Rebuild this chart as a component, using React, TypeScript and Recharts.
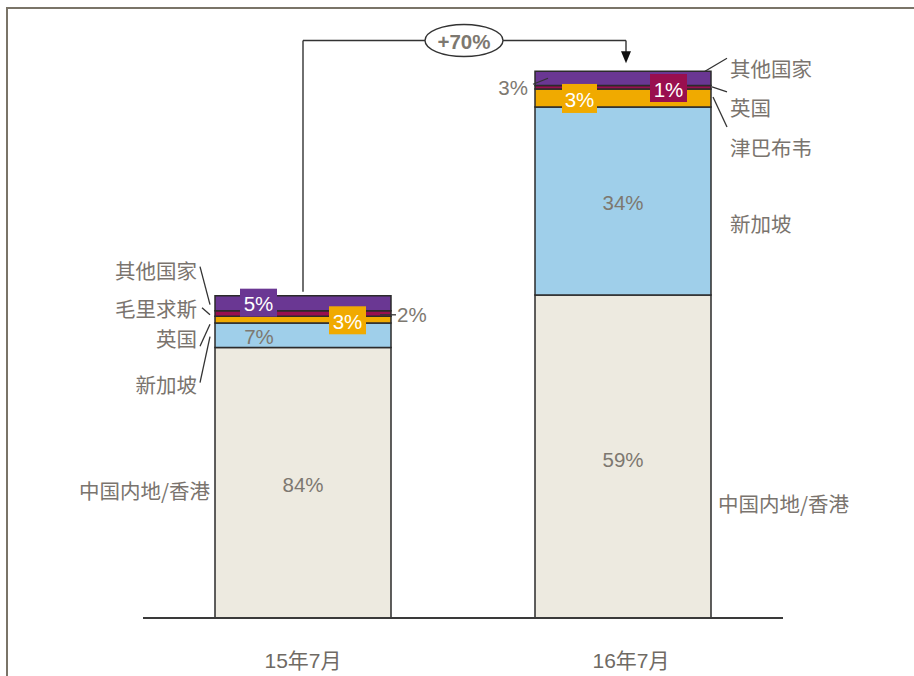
import React from 'react';
import { BarChart, Bar, XAxis, YAxis, LabelList } from 'recharts';

// ---- data ----
const categories = ['15年7月', '16年7月'];
const chinaHK = [84.0, 100.3];
const singapore = [7.6, 58.4];
const uk = [2.1, 5.6];
const mauritius = [1.7, 0];
const zimbabwe = [0, 1.1];
const others = [4.7, 4.4];

const chinaPct = ['84%', '59%'];
const singaporePct = ['7%', '34%'];
const ukPct = ['3%', '3%'];
const mauritiusPct = ['2%', ''];
const zimbabwePct = ['', '1%'];
const othersPct = ['5%', '3%'];
const growthLabel = '+70%';

const seriesNames = {
  china: '中国内地/香港',
  sg: '新加坡',
  uk: '英国',
  mu: '毛里求斯',
  zw: '津巴布韦',
  ot: '其他国家',
};

const data = categories.map((c, i) => ({
  cat: c,
  china: chinaHK[i],
  sg: singapore[i],
  uk: uk[i],
  mu: mauritius[i],
  zw: zimbabwe[i],
  ot: others[i],
}));

// ---- style ----
const C_BEIGE = '#edeae0';
const C_BLUE = '#9fcfea';
const C_ORANGE = '#f0aa00';
const C_CRIMSON = '#990f4f';
const C_PURPLE = '#6a3793';
const STROKE = '#2b2b2b';
const TXT = '#7a746e';
const PCT = '#7d7870';
const LEAD = '#333333';
const CJK = '"Noto Sans CJK SC", "Noto Sans", sans-serif';
const NUM = '"Liberation Sans", Arial, "Noto Sans CJK SC", sans-serif';
const TOPY = 40.5;
const NUMSIZE = 20.5;

const Lbl = ({ x, y, t, anchor = 'start', size = 20.5, color = TXT, family = CJK, weight = 400 }: any) => (
  <text x={x} y={y} textAnchor={anchor} dominantBaseline="central" fontSize={size} fill={color} fontFamily={family} fontWeight={weight}>
    {t}
  </text>
);

const Lead = ({ x1, y1, x2, y2 }: any) => (
  <line x1={x1} y1={y1} x2={x2} y2={y2} stroke={LEAD} strokeWidth={1.3} />
);

const Box = ({ cx, cy, w, h, fill, t }: any) => (
  <g>
    <rect x={cx - w / 2} y={cy - h / 2} width={w} height={h} fill={fill} />
    <Lbl x={cx} y={cy + 1} t={t} anchor="middle" size={NUMSIZE} color="#ffffff" family={NUM} />
  </g>
);

const Annotations = (props: any) => {
  const vb = props.viewBox || {};
  const x = props.x ?? vb.x;
  const y = props.y ?? vb.y;
  const w = props.width ?? vb.width;
  const h = props.height ?? vb.height;
  const i = props.index;
  if (x == null || y == null || !w || !h) return null;
  const k = h / others[i];
  const bottom = y + h + (chinaHK[i] + singapore[i] + uk[i] + mauritius[i] + zimbabwe[i]) * k;
  const Tc = bottom - chinaHK[i] * k;
  const Ts = Tc - singapore[i] * k;
  const Tu = Ts - uk[i] * k;
  const Tm = Tu - (mauritius[i] + zimbabwe[i]) * k;
  const To = y;
  const midC = (Tc + bottom) / 2;
  const midS = (Ts + Tc) / 2;
  const cx = x + w / 2;

  if (i === 0) {
    return (
      <g>
        <Lbl x={cx} y={midC + 2} t={chinaPct[0]} anchor="middle" size={NUMSIZE} color={PCT} family={NUM} />
        <Lbl x={x - 5} y={midC + 7} t={seriesNames.china} anchor="end" />
        <Lbl x={x + 44} y={midS + 1} t={singaporePct[0]} anchor="middle" size={NUMSIZE} color={PCT} family={NUM} />
        <Lbl x={x - 18} y={Tc + 36} t={seriesNames.sg} anchor="end" />
        <Lead x1={x - 15} y1={Tc + 35} x2={x - 5} y2={Tc - 11} />
        <Lbl x={x - 18} y={Tu + 22} t={seriesNames.uk} anchor="end" />
        <Lead x1={x - 15} y1={Tu + 30} x2={x - 5} y2={Tu + 8} />
        <Lbl x={x - 18} y={Tm - 3} t={seriesNames.mu} anchor="end" />
        <Lead x1={x - 13} y1={Tm - 3} x2={x - 5} y2={Tm + 4} />
        <Lbl x={x - 18} y={To - 26} t={seriesNames.ot} anchor="end" />
        <Lead x1={x - 15} y1={To - 29} x2={x - 5} y2={To + 9} />
        <Lead x1={x + w - 11} y1={Tm + 4} x2={x + w + 5} y2={Tm + 4} />
        <Lbl x={x + w + 6} y={Tm + 4} t={mauritiusPct[0]} size={NUMSIZE} color={PCT} family={NUM} />
        <Box cx={x + 43.5} cy={To + 7} w={37} h={28} fill={C_PURPLE} t={othersPct[0]} />
        <Box cx={x + 132.5} cy={Tu + 4} w={37} h={28} fill={C_ORANGE} t={ukPct[0]} />
        <line x1={cx} y1={To - 4} x2={cx} y2={TOPY} stroke={LEAD} strokeWidth={1.4} />
        <line x1={cx} y1={TOPY} x2={cx + 122} y2={TOPY} stroke={LEAD} strokeWidth={1.4} />
      </g>
    );
  }
  return (
    <g>
      <Lbl x={cx} y={midC + 3} t={chinaPct[1]} anchor="middle" size={NUMSIZE} color={PCT} family={NUM} />
      <Lbl x={x + w + 7} y={midC + 46.5} t={seriesNames.china} />
      <Lbl x={cx} y={midS + 1} t={singaporePct[1]} anchor="middle" size={NUMSIZE} color={PCT} family={NUM} />
      <Lbl x={x + w + 19} y={Tc - 72} t={seriesNames.sg} />
      <Box cx={x + 44.5} cy={Tu + 9.5} w={35} h={29} fill={C_ORANGE} t={ukPct[1]} />
      <Lbl x={x + w + 19} y={Tu + 18} t={seriesNames.uk} />
      <Lead x1={x + w + 1} y1={Tu - 2} x2={x + w + 16} y2={Tu + 3} />
      <Box cx={x + 133.5} cy={Tm + 2.6} w={37} h={28} fill={C_CRIMSON} t={zimbabwePct[1]} />
      <Lbl x={x + w + 19} y={Tm + 61.6} t={seriesNames.zw} />
      <Lead x1={x + w + 2} y1={Tm + 11.6} x2={x + w + 16} y2={Tm + 41.6} />
      <Lbl x={x - 7} y={To + 16} t={othersPct[1]} anchor="end" size={NUMSIZE} color={PCT} family={NUM} />
      <Lead x1={x - 2} y1={To + 13} x2={x + 13} y2={To + 7} />
      <Lbl x={x + w + 19} y={To - 3} t={seriesNames.ot} />
      <Lead x1={x + w - 6} y1={To} x2={x + w + 16} y2={To - 13} />
      <line x1={x - 71 + 39} y1={TOPY} x2={x + 91} y2={TOPY} stroke={LEAD} strokeWidth={1.4} />
      <line x1={x + 91} y1={TOPY} x2={x + 91} y2={To - 19} stroke={LEAD} strokeWidth={1.4} />
      <polygon points={`${x + 86},${To - 20} ${x + 96},${To - 20} ${x + 91},${To - 8}`} fill="#111" />
      <ellipse cx={x - 71} cy={TOPY} rx={39} ry={16} fill="#ffffff" stroke={LEAD} strokeWidth={1.4} />
      <Lbl x={x - 71} y={TOPY + 1} t={growthLabel} anchor="middle" size={NUMSIZE} color={PCT} family={NUM} weight={700} />
    </g>
  );
};

const Tick = (props: any) => {
  const { x, y, payload, index } = props;
  return (
    <text x={x + (index === 1 ? 8 : 0)} y={y + 34} textAnchor="middle" dominantBaseline="central" fontSize={21} fill="#6f6a64" fontFamily={NUM}>
      {payload.value}
    </text>
  );
};

export default function App() {
  return (
    <div style={{ position: 'absolute', left: 0, top: 0, width: 914, height: 676, background: '#ffffff', overflow: 'hidden' }}>
      <div
        style={{
          position: 'absolute',
          left: 6,
          top: 7,
          width: 920,
          height: 700,
          borderLeft: '2px solid #7a7468',
          borderTop: '2px solid #7a7468',
        }}
      />
      <div style={{ position: 'absolute', left: 0, top: 0 }}>
        <BarChart
          width={914}
          height={676}
          data={data}
          margin={{ top: 38.4, right: 131, bottom: 0, left: 143 }}
          barCategoryGap="22.5%"
        >
          <XAxis
            dataKey="cat"
            height={58}
            axisLine={{ stroke: '#3a3a3a', strokeWidth: 2 }}
            tickLine={false}
            tick={<Tick />}
            interval={0}
          />
          <YAxis hide domain={[0, 180]} allowDataOverflow />
          <Bar dataKey="china" stackId="s" fill={C_BEIGE} stroke={STROKE} strokeWidth={1.5} isAnimationActive={false} />
          <Bar dataKey="sg" stackId="s" fill={C_BLUE} stroke={STROKE} strokeWidth={1.5} isAnimationActive={false} />
          <Bar dataKey="uk" stackId="s" fill={C_ORANGE} stroke={STROKE} strokeWidth={1.5} isAnimationActive={false} />
          <Bar dataKey="mu" stackId="s" fill={C_CRIMSON} stroke={STROKE} strokeWidth={1.5} isAnimationActive={false} />
          <Bar dataKey="zw" stackId="s" fill={C_CRIMSON} stroke={STROKE} strokeWidth={1.5} isAnimationActive={false} />
          <Bar dataKey="ot" stackId="s" fill={C_PURPLE} stroke={STROKE} strokeWidth={1.5} isAnimationActive={false}>
            <LabelList dataKey="ot" content={<Annotations />} />
          </Bar>
        </BarChart>
      </div>
    </div>
  );
}
